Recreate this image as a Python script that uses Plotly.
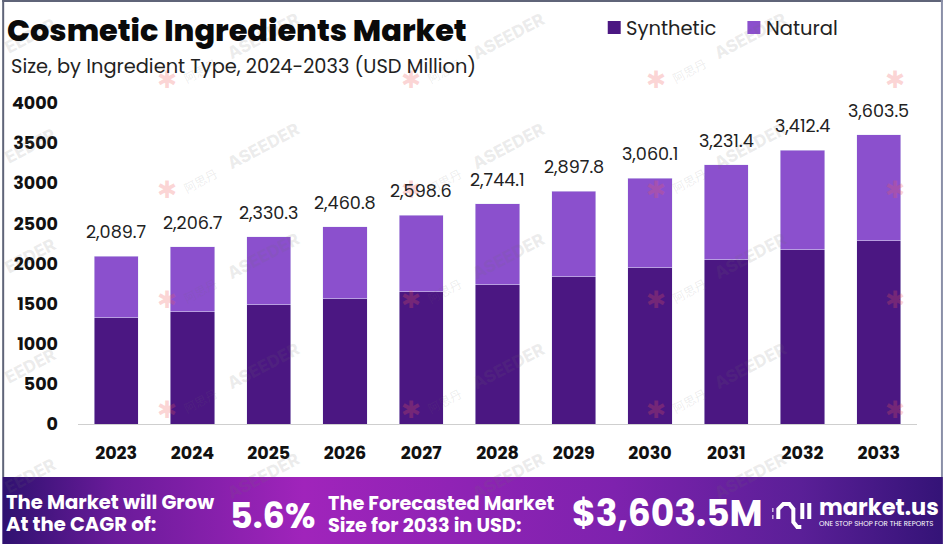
import base64

import plotly.graph_objects as go

W, H = 943, 544
L, R, T, B = 76, 917, 103, 424  # plot area in pixels

years = ['2023', '2024', '2025', '2026', '2027', '2028', '2029', '2030', '2031', '2032', '2033']
synthetic = [1325, 1400, 1484, 1559, 1646, 1737, 1837, 1949, 2049, 2170, 2282]
natural = [764.7, 806.7, 846.3, 901.8, 952.6, 1007.1, 1060.8, 1111.1, 1182.4, 1242.4, 1321.5]
totals = [2089.7, 2206.7, 2330.3, 2460.8, 2598.6, 2744.1, 2897.8, 3060.1, 3231.4, 3412.4, 3603.5]
y_ticks = [0, 500, 1000, 1500, 2000, 2500, 3000, 3500, 4000]

DARK = '#4b1782'
LIGHT = '#8b50cd'
HEAD = 'Poppins, Inter, sans-serif'


def px(x):
    return (x - L) / (R - L)


def py(y):
    return (B - y) / (B - T)


def label(x, y, text, size, color='#111111', weight=400, anchor='left', family=HEAD, angle=0):
    return dict(xref='paper', yref='paper', x=px(x), y=py(y), text=text, showarrow=False,
                xanchor=anchor, yanchor='middle', textangle=angle,
                font=dict(size=size, color=color, weight=weight, family=family))


def box(x0, y0, x1, y1, color):
    return dict(type='rect', xref='paper', yref='paper', x0=px(x0), x1=px(x1), y0=py(y0), y1=py(y1),
                fillcolor=color, line_width=0, layer='above')


def stroke(points, width=4):
    # polyline in pixel positions, used for the small logo in the footer
    path = 'M' + ' L'.join(f'{px(a):.4f},{py(b):.4f}' for a, b in points)
    return dict(type='path', xref='paper', yref='paper', path=path, layer='above',
                line=dict(color='white', width=width))


fig = go.Figure()
fig.add_bar(x=years, y=synthetic, name='Synthetic', marker_color=DARK)
fig.add_bar(x=years, y=natural, name='Natural', marker_color=LIGHT)

notes = []

# Faint watermark
for col in [28, 262, 508, 750]:
    for row in [36, 146, 256, 366, 476]:
        word = 'EEDER' if col == 28 else 'ASEEDER'
        notes.append(label(col, row, word, 17, 'rgba(110,110,110,0.13)', 800, 'center', 'Inter', -28))
for col in [165, 410, 655, 895]:
    for row in [80, 190, 300, 410]:
        notes.append(label(col, row, '✱', 24, 'rgba(240,90,90,0.25)', 400, 'center', 'DejaVu Sans'))
        if col < 800:
            notes.append(label(col + 33, row - 10, '阿思丹', 12, 'rgba(110,110,110,0.13)', 400, 'center',
                               'Noto Sans CJK SC', -28))

# Total labels above the bars (x is the category's position on the axis)
for i, total in enumerate(totals):
    notes.append(dict(xref='x', yref='y', x=i, y=total, text=f'{total:,.1f}', showarrow=False, yshift=24,
                      yanchor='middle', font=dict(size=17.6, color='#222222', family=HEAD)))

notes += [
    label(3, 30, 'Cosmetic Ingredients Market', 30.4, '#0a0a0a', 800),
    label(7, 66, 'Size, by Ingredient Type, 2024-2033 (USD Million)', 19.4, '#222222'),
    label(623, 28, 'Synthetic', 19.5, '#222222'),
    label(764, 28, 'Natural', 19.5, '#222222'),
    label(2, 502, 'The Market will Grow', 19.6, 'white', 700),
    label(2, 524, 'At the CAGR of:', 19.6, 'white', 700),
    label(226, 515, '5.6%', 35, 'white', 700),
    label(325, 503, 'The Forecasted Market', 19.3, 'white', 700),
    label(325, 525, 'Size for 2033 in USD:', 19.3, 'white', 700),
    label(569, 513, '$3,603.5M', 36, 'white', 700),
    label(817, 507, 'market.us', 22.5, 'white', 700),
    label(817, 523, 'ONE STOP SHOP FOR THE REPORTS', 7, 'white', 400),
]

# Background strip of the footer, purple gradient
gradient = """<svg xmlns="http://www.w3.org/2000/svg" width="943" height="67">
<defs><linearGradient id="g"><stop offset="0" stop-color="#2f1170"/>
<stop offset="0.12" stop-color="#6a1b9a"/><stop offset="0.32" stop-color="#a024bb"/>
<stop offset="0.65" stop-color="#7e22ae"/><stop offset="0.85" stop-color="#5a1f97"/>
<stop offset="1" stop-color="#341377"/></linearGradient></defs>
<rect width="943" height="67" fill="url(#g)"/></svg>"""
source = 'data:image/svg+xml;base64,' + base64.b64encode(gradient.encode()).decode()

logo = [
    stroke([(778, 519), (778, 509), (783, 504), (789, 504), (793, 509), (793, 522), (797, 527), (801, 527)]),
    stroke([(802, 503), (802, 519)]),
    stroke([(809, 503), (809, 519)]),
    stroke([(772, 510), (773, 510)]),
    stroke([(772, 517), (773, 517)]),
]

fig.update_layout(
    width=W, height=H,
    margin=dict(l=L, r=W - R, t=T, b=H - B, pad=0),
    paper_bgcolor='white', plot_bgcolor='white',
    barmode='stack', bargap=0.42, showlegend=False,
    font=dict(family=HEAD),
    annotations=notes,
    shapes=[
        box(607, 21, 620, 34, DARK),
        box(747, 21, 760, 34, LIGHT),
        box(0, 0, W, 2, '#5f6478'),
        box(0, 0, 2, 477, '#5f6478'),
        box(W - 2, 0, W, 477, '#8a8fa8'),
    ] + logo,
    images=[dict(source=source, xref='paper', yref='paper', x=px(0), y=py(477),
                 sizex=px(W) - px(0), sizey=py(477) - py(H), xanchor='left', yanchor='top',
                 sizing='stretch', layer='below')],
)
fig.update_xaxes(type='category', showgrid=False, showline=True, linecolor='#cfcfcf', linewidth=1,
                 ticks='', ticklabelstandoff=13, tickfont=dict(size=17.5, color='#111111', weight=700))
fig.update_yaxes(range=[0, 4000], tickvals=y_ticks, showgrid=False, zeroline=False, showline=False,
                 ticks='', ticklabelstandoff=19, tickfont=dict(size=17.5, color='#111111', weight=700))

# the page's default body margin would push the picture 8px down and right
fig.write_html("out.html", config={'displayModeBar': False},
               post_script="document.body.style.margin = '0';")
